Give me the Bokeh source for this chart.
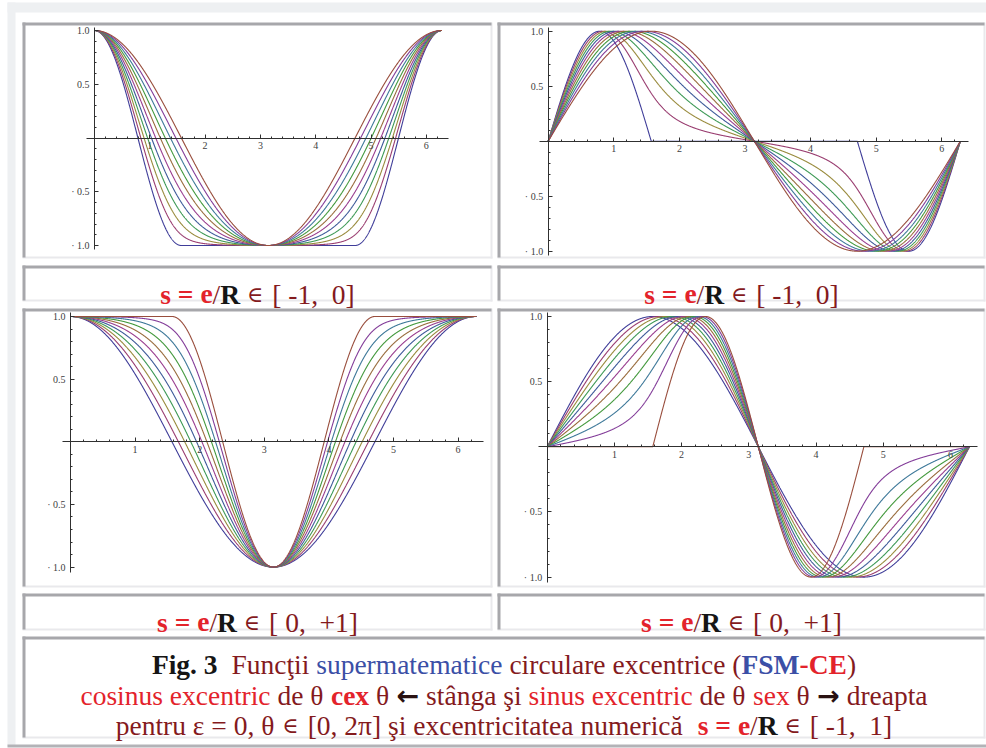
import colorsys

import numpy as np
from bokeh.embed import file_html
from bokeh.models import ColumnDataSource, FixedTicker, LinearAxis, Range1d
from bokeh.plotting import figure
from bokeh.resources import INLINE

W, H = 986, 748

# numerical eccentricity s = e/R for the two families of curves
S_NEG = [-1.0, -0.9, -0.8, -0.7, -0.6, -0.5, -0.4, -0.3, -0.2, -0.1, 0.0]
S_POS = [0.0, 0.1, 0.2, 0.3, 0.4, 0.5, 0.6, 0.7, 0.8, 0.9, 1.0]
THETA = np.linspace(0.0, 2.0 * np.pi, 1801)

# axis ticks
X_TICKS = [1, 2, 3, 4, 5, 6]
X_MINOR = [round(0.2 * i, 1) for i in range(1, 32)]
Y_TICKS = [-1.0, -0.5, 0.5, 1.0]
Y_MINOR = [round(-1.0 + 0.1 * i, 1) for i in range(21)]
Y_LABELS = {-1.0: "\u00b7 1.0", -0.5: "\u00b7 0.5", 0.5: "0.5", 1.0: "1.0"}

# caption texts
CAP_NEG = "[ -1,\u00a0 0]"
CAP_POS = "[ 0,\u00a0 +1]"


def eccentric_angle(s, theta):
    """alpha = theta - arcsin(s sin theta) for eccentricity s (epsilon = 0)."""
    return theta - np.arcsin(np.clip(s * np.sin(theta), -1.0, 1.0))


def cex(s, theta):
    return np.cos(eccentric_angle(s, theta))


def sex(s, theta):
    return np.sin(eccentric_angle(s, theta))


# Mathematica-like default plot colours: golden-ratio hue steps, Hue[h, 0.6, 0.6]
def curve_colors(n):
    out = []
    for i in range(n):
        h = (0.67 + 0.2360679775 * i) % 1.0
        r, g, b = colorsys.hsv_to_rgb(h, 0.6, 0.6)
        out.append("#%02x%02x%02x" % (int(r * 255), int(g * 255), int(b * 255)))
    return out


# screen placement of each graph: origin pixel and pixels per unit
PANELS = [
    dict(key="tl", fn=cex, s=S_NEG, x0=94.0, kx=55.3, y0=137.5, ky=107.5, xb=(-0.145, 6.41)),
    dict(key="tr", fn=sex, s=S_NEG, x0=547.7, kx=65.6, y0=140.7, ky=110.0, xb=(-0.13, 6.40)),
    dict(key="bl", fn=cex, s=S_POS, x0=70.0, kx=64.6, y0=441.3, ky=125.3, xb=(-0.12, 6.39)),
    dict(key="br", fn=sex, s=S_POS, x0=546.7, kx=67.2, y0=446.3, ky=130.3, xb=(-0.13, 6.40)),
]

# framed cells of the page table: (left, top, right, bottom) in pixels
BOXES = [
    (22, 22, 492, 258), (497, 22, 985, 258),
    (22, 265, 492, 301), (497, 265, 985, 301),
    (22, 308, 492, 587), (497, 308, 985, 587),
    (22, 593, 492, 630), (497, 593, 985, 630),
    (22, 636, 985, 738),
]

RED = "#e3232b"
MAROON = "#841a1d"
BLUE = "#3b4fa6"
BLACK = "#151515"
ARROW = "#2a1212"
SERIF = "Liberation Serif"

p = figure(width=W, height=H, x_range=Range1d(0, W), y_range=Range1d(H, 0),
           output_backend="svg", toolbar_location=None,
           x_axis_location=None, y_axis_location=None, min_border=0,
           background_fill_color="white", border_fill_color="white",
           outline_line_color=None)
p.grid.visible = False

# outer table border
p.quad(left=[7, 7, 7], right=[W, 15, W], top=[2, 2, 744], bottom=[12, 746, 747],
       fill_color=["#eef0f2", "#eef0f2", "#b3b3b7"], line_color=None)

# bevelled cell borders: dark top/left, light right/bottom
lite = dict(l=[], r=[], t=[], b=[])
dark = dict(l=[], r=[], t=[], b=[])
for (x0, y0, x1, y1) in BOXES:
    for q in ((x1 - 2, x1, y0, y1), (x0, x1, y1 - 2, y1)):
        lite["l"].append(q[0]); lite["r"].append(q[1]); lite["t"].append(q[2]); lite["b"].append(q[3])
    for q in ((x0, x1 - 1, y0, y0 + 3), (x0, x0 + 3, y0, y1 - 1)):
        dark["l"].append(q[0]); dark["r"].append(q[1]); dark["t"].append(q[2]); dark["b"].append(q[3])
p.quad(left=lite["l"], right=lite["r"], top=lite["t"], bottom=lite["b"],
       fill_color="#e9e9ec", line_color=None)
p.quad(left=dark["l"], right=dark["r"], top=dark["t"], bottom=dark["b"],
       fill_color="#a7a7ab", line_color=None)

# the four graphs
for pan in PANELS:
    xn, yn = pan["key"] + "_x", pan["key"] + "_y"
    p.extra_x_ranges[xn] = Range1d(-pan["x0"] / pan["kx"], (W - pan["x0"]) / pan["kx"])
    p.extra_y_ranges[yn] = Range1d((pan["y0"] - H) / pan["ky"], pan["y0"] / pan["ky"])

    src = ColumnDataSource(dict(
        xs=[THETA for _ in pan["s"]],
        ys=[pan["fn"](s, THETA) for s in pan["s"]],
        color=curve_colors(len(pan["s"])),
    ))
    p.multi_line(xs="xs", ys="ys", line_color="color", line_width=1.1, source=src,
                 x_range_name=xn, y_range_name=yn)

    common = dict(x_range_name=xn, y_range_name=yn, fixed_location=0,
                  axis_line_color="#303030", axis_line_width=1,
                  major_tick_line_color="#303030", minor_tick_line_color="#303030",
                  major_tick_in=4, major_tick_out=0, minor_tick_in=2, minor_tick_out=0,
                  major_label_text_font=SERIF, major_label_text_font_size="10px",
                  major_label_text_color="#404040")
    xa = LinearAxis(bounds=pan["xb"], ticker=FixedTicker(ticks=X_TICKS, minor_ticks=X_MINOR),
                    major_label_standoff=4, **common)
    ya = LinearAxis(bounds=(-1.04, 1.03), ticker=FixedTicker(ticks=Y_TICKS, minor_ticks=Y_MINOR),
                    major_label_overrides=Y_LABELS, major_label_standoff=5, **common)
    p.add_layout(xa, "below")
    p.add_layout(ya, "left")

# ---- rich text lines (segments laid out with Times-compatible advance widths)
REG = {' ': .25, '\u00a0': .25, 'a': .444, 'b': .5, 'c': .444, 'd': .5, 'e': .444, 'f': .333,
       'g': .5, 'h': .5, 'i': .278, 'j': .278, 'k': .5, 'l': .278, 'm': .778, 'n': .5, 'o': .5,
       'p': .5, 'q': .5, 'r': .333, 's': .389, 't': .278, 'u': .5, 'v': .5, 'w': .722, 'x': .5,
       'y': .5, 'z': .444, 'F': .556, 'R': .667, 'C': .667, 'E': .611, 'S': .556, 'M': .889,
       '(': .333, ')': .333, '[': .333, ']': .333, ',': .25, '.': .25, '-': .333, '=': .564,
       '+': .564, '/': .278, '\u0163': .278, '\u015f': .389, '\u00e2': .444, '\u0103': .444,
       '\u03b8': .5, '\u03b5': .44, '\u03c0': .55}
for d in "0123456789":
    REG[d] = .5
BLD = dict(REG)
BLD.update({'a': .5, 'b': .556, 'd': .556, 'h': .556, 'F': .611, 'M': .944, 'C': .722,
            'E': .667, 'R': .722, '=': .57})

FS = 27.5
rows = dict(x=[], y=[], text=[], color=[], font=[], size=[], style=[])


def seg(text, color, bold=False, font=SERIF, size=FS):
    return (text, color, bold, font, size)


def place_line(segments, cx, baseline):
    widths = []
    for (t, col, bold, font, size) in segments:
        if font == SERIF:
            tab = BLD if bold else REG
            widths.append(sum(tab.get(c, .5) for c in t) * size)
        else:
            widths.append(0.838 * size * len(t))
    x = cx - sum(widths) / 2.0
    for (t, col, bold, font, size), w in zip(segments, widths):
        lead = len(t) - len(t.lstrip(' '))
        core = t.strip(' ')
        if core:
            rows["x"].append(x + lead * 0.25 * FS)
            rows["y"].append(baseline)
            rows["text"].append(core)
            rows["color"].append(col)
            rows["font"].append(font)
            rows["size"].append("%.1fpx" % size)
            rows["style"].append("bold" if bold else "normal")
        x += w


def caption(interval):
    return [seg("s", RED, True), seg(" ", RED), seg("=", RED, True), seg(" ", RED),
            seg("e", RED, True), seg("/", MAROON), seg("R", BLACK, True), seg(" ", MAROON),
            seg("\u2208", MAROON, font="DejaVu Serif", size=22), seg(" " + interval, MAROON)]


place_line(caption(CAP_NEG), (22 + 492) / 2, 293.5)
place_line(caption(CAP_NEG), (497 + 985) / 2, 293.5)
place_line(caption(CAP_POS), (22 + 492) / 2, 621.5)
place_line(caption(CAP_POS), (497 + 985) / 2, 621.5)

FOOT_CX = (22 + 985) / 2
place_line([
    seg("Fig. 3", BLACK, True), seg("\u00a0\u00a0Func\u0163ii ", MAROON),
    seg("supermatematice", BLUE), seg(" circulare excentrice (", MAROON),
    seg("FSM", BLUE, True), seg("-", RED, True), seg("CE", RED, True), seg(")", MAROON),
], FOOT_CX, 663.5)
place_line([
    seg("cosinus excentric", RED), seg(" de \u03b8 ", MAROON), seg("cex", RED, True),
    seg(" \u03b8 ", MAROON), seg("\u2190", ARROW, True, "DejaVu Sans", 27),
    seg(" st\u00e2nga \u015fi ", MAROON), seg("sinus excentric", RED),
    seg(" de \u03b8 ", MAROON), seg("sex", RED), seg(" \u03b8 ", MAROON),
    seg("\u2192", ARROW, True, "DejaVu Sans", 27), seg(" dreapta", MAROON),
], FOOT_CX, 694.5)
place_line([
    seg("pentru \u03b5 = 0, \u03b8 ", MAROON), seg("\u2208", MAROON, font="DejaVu Serif", size=22),
    seg(" [0, 2\u03c0] \u015fi excentricitatea numeric\u0103\u00a0\u00a0", MAROON),
    seg("s = e", RED, True), seg("/", MAROON), seg("R", BLACK, True), seg(" ", MAROON),
    seg("\u2208", MAROON, font="DejaVu Serif", size=22), seg(" [ -1,\u00a0 1]", MAROON),
], FOOT_CX, 725)

p.text(x="x", y="y", text="text", text_color="color", text_font="font",
       text_font_size="size", text_font_style="style", text_align="left",
       text_baseline="alphabetic", source=ColumnDataSource(rows))

open("out.html", "w").write(file_html(p, INLINE))
